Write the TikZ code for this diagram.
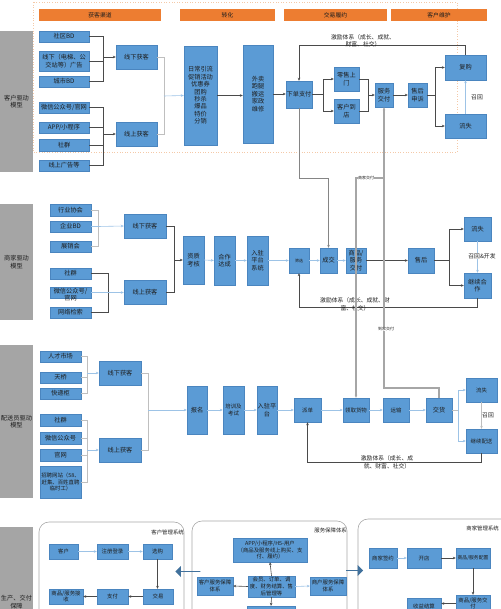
\documentclass[tikz,border=0pt]{standalone}
\usepackage{fontspec}
\setmainfont{Noto Sans CJK SC}
\usetikzlibrary{arrows.meta,shapes.arrows}
\definecolor{bfill}{HTML}{5B9BD5}
\definecolor{bline}{HTML}{4A85BF}
\definecolor{org}{HTML}{ED7D31}
\definecolor{gry}{HTML}{A5A5A5}
\definecolor{dkl}{HTML}{4A4A4A}
\definecolor{ltl}{HTML}{9DC3E6}
\definecolor{ltg}{HTML}{BFBFBF}
\definecolor{thkc}{HTML}{A6A6A6}
\definecolor{txt}{HTML}{1E1E1E}
\definecolor{barrow}{HTML}{41719C}
\definecolor{frm}{HTML}{F4C9A8}
\newcommand\rbox[7][bx]{\node[#1,minimum width={(#5)-(#3)},minimum height={(#6)-(#4)}] (#2) at ({((#3)+(#5))/2},{((#4)+(#6))/2}) {#7};}
\tikzset{
 bx/.style={draw=bline,line width=0.4pt,fill=bfill,text=txt,inner sep=0.3pt,align=center,font=\fontsize{6.2}{7.4}\selectfont},
 hdr/.style={fill=org,draw=none,text=txt,inner sep=0pt,align=center,font=\fontsize{5.8}{7}\selectfont},
 sidebar/.style={fill=gry,draw=none,text=txt,inner sep=0pt,align=center,font=\fontsize{6.2}{7.6}\selectfont},
 sys/.style={draw=thkc,line width=0.6pt,fill=none,rounded corners=10pt,inner sep=0pt},
 dk/.style={draw=dkl,line width=0.6pt},
 lt/.style={draw=ltl,line width=0.6pt},
 lg/.style={draw=ltg,line width=0.6pt},
 midl/.style={draw=thkc!80!black,line width=0.9pt},
 thk/.style={draw=thkc,line width=1.6pt},
 arr/.style={-{Stealth[length=3pt,width=2.6pt]}},
 lbl/.style={text=txt,align=center,inner sep=0.5pt,font=\fontsize{5.8}{7.6}\selectfont},
 tiny/.style={text=txt,inner sep=0.3pt,font=\fontsize{4}{5}\selectfont},
 ttl/.style={text=txt,inner sep=0pt,font=\fontsize{5.4}{6}\selectfont},
 sm/.style={font=\fontsize{5.4}{6.6}\selectfont},
 barw/.style={single arrow,fill=barrow,draw=none,minimum width=11pt,single arrow head extend=3pt,inner sep=0pt}
}
\begin{document}
\begin{tikzpicture}[x=1pt,y=-1pt]
\useasboundingbox (0,0) rectangle (500,609);
\draw[draw=frm,dotted,line width=0.6pt] (33,2) rectangle (457,152);
% headers
\rbox[hdr]{h1}{39}{9}{161}{21}{获客渠道}
\rbox[hdr]{h2}{180}{9}{275}{21}{转化}
\rbox[hdr]{h3}{284}{9}{387}{21}{交易履约}
\rbox[hdr]{h4}{391}{9}{487}{21}{客户维护}
% side bars
\rbox[sidebar]{g1}{0}{31}{33}{172}{客户驱动\\模型}
\rbox[sidebar]{g2}{0}{204}{33}{320}{商家驱动\\模型}
\rbox[sidebar]{g3}{0}{345}{33}{498}{配送员驱动\\模型}
\rbox[sidebar]{g4}{0}{527}{33}{640}{}
\node[sidebar,fill=none] (g4t) at (16.5,602) {生产、交付\\保障};
% ---------- section 1 ----------
\rbox{c1a}{39}{31}{89}{42}{社区BD}
\rbox{c1b}{39}{51}{89}{71}{线下（电梯、公\\交站等）广告}
\rbox{c1c}{39}{76}{89}{87}{城市BD}
\rbox{c1d}{39}{102}{89}{113}{微信公众号/官网}
\rbox{c1e}{39}{122}{89}{133}{APP/小程序}
\rbox{c1f}{39}{139}{89}{151}{社群}
\rbox{c1g}{39}{160}{89}{171}{线上广告等}
\rbox{c1off}{116}{45}{157}{69}{线下获客}
\rbox{c1on}{116}{122}{157}{146}{线上获客}
\rbox{c1conv}{184}{46}{217}{145}{日常引流\\促销活动\\优惠券\\团购\\秒杀\\爆品\\特价\\分销}
\rbox{c1svc}{243}{45}{273}{143}{外卖\\跑腿\\搬运\\家政\\维修}
\rbox{c1ord}{286}{81}{312}{108}{下单支付}
\rbox{c1door}{334}{67}{359}{91}{零售上\\门}
\rbox{c1shop}{334}{99}{359}{123}{客户到\\店}
\rbox{c1del}{375}{83}{393}{107}{服务\\交付}
\rbox{c1as}{408}{83}{427}{107}{售后\\申诉}
\rbox{c1rep}{445}{55}{486}{80}{复购}
\rbox{c1lost}{445}{114}{486}{138}{流失}
\coordinate (j1a) at (103,57);
\coordinate (j1b) at (103,134);
\coordinate (j1c) at (164,96);
\coordinate (j1d) at (323,94.5);
\coordinate (j1e) at (368,95);
\coordinate (j1f) at (435,95);
\draw[dk] (c1a.east) -| (j1a);
\draw[dk] (c1c.east) -| (j1a);
\draw[dk] (c1b.east) -- (c1b.east -| j1a);
\draw[dk,arr] (j1a) -- (c1off.west);
\draw[dk] (c1d.east) -| (j1b);
\draw[dk] (c1g.east) -| (j1b);
\draw[dk] (c1e.east) -- (c1e.east -| j1b);
\draw[dk] (c1f.east) -- (c1f.east -| j1b);
\draw[dk,arr] (j1b) -- (c1on.west);
\draw[lg] (c1off.east) -| (j1c);
\draw[lg] (c1on.east) -| (j1c);
\draw[lt,arr] (j1c) -- (c1conv.west);
\draw[dk,arr] (c1conv.east) -- (c1conv.east -| c1svc.west);
\draw[dk,arr] (c1svc.east) -- (c1svc.east -| c1ord.west);
\draw[dk] (c1ord.east) -- (j1d);
\draw[dk,arr] (j1d) |- (c1door.west);
\draw[dk,arr] (j1d) |- (c1shop.west);
\draw[dk] (c1door.east) -| (j1e);
\draw[dk] (c1shop.east) -| (j1e);
\draw[dk,arr] (j1e) -- (c1del.west);
\draw[dk,arr] (c1del.east) -- (c1as.west);
\draw[dk] (c1as.east) -- (j1f);
\draw[dk,arr] (j1f) |- (c1rep.west);
\draw[dk,arr] (j1f) |- (c1lost.west);
\draw[lt,arr] (c1lost.north) -- (c1rep.south);
\node[lbl,fill=white] (r1) at (477,97) {召回};
\draw[dk,arr] (c1rep.north) -- ++(0,-9) -| (c1ord.north);
\node[lbl] (k1) at (363,41) {激励体系（成长、成就、\\财富、社交）};
% ---------- section 2 ----------
\rbox{m1a}{50}{204}{91}{216}{行业协会}
\rbox{m1b}{50}{221}{91}{232}{企业BD}
\rbox{m1c}{50}{241}{91}{252}{展销会}
\rbox{m1d}{50}{268}{91}{279}{社群}
\rbox{m1e}{50}{287}{91}{298}{}
\node[lbl,font=\fontsize{6.2}{7}\selectfont] (m1et) at (70.5,295) {微信公众号/\\官网};
\rbox{m1f}{50}{307}{91}{318}{网络检索}
\rbox{m1off}{124}{214}{166}{238}{线下获客}
\rbox{m1on}{124}{280}{166}{304}{线上获客}
\rbox{m1qual}{183}{236}{204}{284}{资质\\考核}
\rbox{m1coop}{214}{236}{235}{285}{合作\\达成}
\rbox{m1join}{247}{236}{268}{285}{入驻\\平台\\系统}
\rbox[bx,tiny]{m1sel}{289}{248}{309}{273}{筛选}
\rbox{m1deal}{320}{248}{337}{273}{成交}
\rbox{m1deliv}{346}{248}{366}{273}{商品/\\服务\\交付}
\rbox{m1as}{408}{248}{434}{273}{售后}
\rbox{m1lost}{464}{217}{491}{241}{流失}
\rbox{m1cont}{464}{273}{491}{298}{继续合\\作}
\coordinate (j2a) at (98,226.5);
\coordinate (j2b) at (108,292.5);
\coordinate (j2c) at (174,260);
\coordinate (j2d) at (449,260.5);
\draw[lg] (m1a.east) -| (j2a);
\draw[lg] (m1c.east) -| (j2a);
\draw[lt] (m1b.east) -- (j2a);
\draw[lt,arr] (j2a) -- (m1off.west);
\draw[dk] (m1d.east) -| (j2b);
\draw[dk] (m1f.east) -| (j2b);
\draw[lt,arr] (m1e.east) -- (m1e.east -| m1on.west);
\draw[dk] (m1off.east) -| (j2c);
\draw[dk] (m1on.east) -| (j2c);
\draw[dk,arr] (j2c) -- (m1qual.west);
\draw[lt,arr] (m1qual.east) -- (m1coop.west);
\draw[lt,arr] (m1coop.east) -- (m1join.west);
\draw[lt,arr] (m1join.east) -- (m1sel.west);
\draw[lt,arr] (m1sel.east) -- (m1deal.west);
\draw[lt,arr] (m1deal.east) -- (m1deliv.west);
\draw[dk,arr] (m1deliv.east) -- (m1as.west);
\draw[dk] (m1as.east) -- (j2d);
\draw[dk,arr] (j2d) |- (m1lost.west);
\draw[dk,arr] (j2d) |- (m1cont.west);
\draw[lt,arr] (m1lost.south) -- (m1cont.north);
\node[lbl,fill=white] (r2) at (482,256) {召回\&开发};
\draw[dk,arr] (m1cont.south) -- ++(0,9) -| (m1sel.south);
\node[lbl] (k2) at (355,304) {激励体系（成长、成就、财\\富、社交）};
% ---------- section 3 ----------
\rbox{d1a}{40}{351}{81}{362}{人才市场}
\rbox{d1b}{40}{372}{81}{383}{天桥}
\rbox{d1c}{40}{388}{81}{399}{快递柜}
\rbox{d1d}{40}{414}{81}{426}{社群}
\rbox{d1e}{40}{432}{81}{444}{微信公众号}
\rbox{d1f}{40}{449}{81}{461}{官网}
\rbox[bx,sm]{d1g}{40}{466}{81}{498}{招聘网站（58、\\赶集、百姓直聘\\临时工）}
\rbox{d1off}{99}{361}{141}{385}{线下获客}
\rbox{d1on}{99}{438}{141}{462}{线上获客}
\rbox{d1reg}{187}{386}{207}{434}{报名}
\rbox[bx,sm]{d1train}{223}{386}{244}{434}{培训及\\考试}
\rbox{d1join}{257}{386}{277}{434}{入驻平\\台}
\rbox[bx,sm]{d1disp}{294}{398}{321}{422}{派单}
\rbox[bx,sm]{d1pick}{343}{398}{369}{422}{领取货物}
\rbox[bx,sm]{d1trans}{383}{398}{409}{422}{运输}
\rbox{d1hand}{426}{398}{452}{422}{交货}
\rbox[bx,sm]{d1lost}{466}{378}{497}{402}{流失}
\rbox[bx,sm]{d1cont}{466}{429}{497}{453}{继续配送}
\coordinate (j3a) at (87,373);
\coordinate (j3b) at (87,450);
\coordinate (j3c) at (148,410);
\coordinate (j3d) at (458,410);
\draw[lg] (d1a.east) -| (j3a);
\draw[lg] (d1c.east) -| (j3a);
\draw[lg] (d1b.east) -- (d1b.east -| j3a);
\draw[lt,arr] (j3a) -- (d1off.west);
\draw[lg] (d1d.east) -| (j3b);
\draw[lg] (d1g.east) -| (j3b);
\draw[lg] (d1e.east) -- (d1e.east -| j3b);
\draw[lg] (d1f.east) -- (d1f.east -| j3b);
\draw[lt,arr] (j3b) -- (d1on.west);
\draw[lg] (d1off.east) -| (j3c);
\draw[lg] (d1on.east) -| (j3c);
\draw[lt,arr] (j3c) -- (d1reg.west);
\draw[lt,arr] (d1reg.east) -- (d1train.west);
\draw[lt,arr] (d1train.east) -- (d1join.west);
\draw[lt,arr] (d1join.east) -- (d1disp.west);
\draw[lt,arr] (d1disp.east) -- (d1pick.west);
\draw[lt,arr] (d1pick.east) -- (d1trans.west);
\draw[lt,arr] (d1trans.east) -- (d1hand.west);
\draw[lg] (d1hand.east) -- (j3d);
\draw[lt,arr] (j3d) |- (d1lost.west);
\draw[lt,arr] (j3d) |- (d1cont.west);
\draw[lg,arr] (d1lost.south) -- (d1cont.north);
\node[lbl,fill=white] (r3) at (488,415) {召回};
\draw[dk,arr] (d1cont.south) -- ++(0,9) -| (d1disp.south);
\node[lbl] (k3) at (387,462) {激励体系（成长、成\\就、财富、社交）};
% ---------- cross connectors ----------
\draw[midl,arr] (c1ord.south) -- ++(0,70) -| (m1deal.north);
\draw[thk,arr] (d1hand.north) -- ++(0,-10) -| (c1del.south);
\coordinate (sj) at (384,178);
\draw[thk,arr] (sj) -| (d1pick.north);
\node[tiny,fill=white] (lb1) at (366,177.5) {商家交付};
\node[tiny,fill=white] (lb2) at (386,329) {到家交付};
% ---------- bottom ----------
\rbox[sys]{s1}{39}{522}{184}{640}{}
\rbox[sys]{s2}{192}{521}{347}{640}{}
\rbox[sys]{s3}{358}{519}{515}{640}{}
\node[ttl,anchor=east] (t1) at (184,532) {客户管理系统};
\node[ttl,anchor=east] (t2) at (347,530) {服务保障体系};
\node[ttl,anchor=east] (t3) at (499,528) {商家管理系统};
\rbox[bx,sm]{b1a}{49}{544}{78}{559}{客户}
\rbox[bx,sm]{b1b}{97}{544}{128}{559}{注册登录}
\rbox[bx,sm]{b1c}{143}{544}{172}{559}{选购}
\rbox[bx,sm]{b1d}{143}{589}{173}{604}{交易}
\rbox[bx,sm]{b1e}{97}{589}{128}{604}{支付}
\rbox[bx,sm]{b1f}{49}{589}{83}{604}{商品/服务接\\收}
\draw[lt,arr] (b1a.east) -- (b1b.west);
\draw[lt,arr] (b1b.east) -- (b1c.west);
\draw[dk,arr] (b1c.south) -- (b1c.south |- b1d.north);
\draw[dk,arr] (b1d.west) -- (b1e.east);
\draw[dk,arr] (b1e.west) -- (b1f.east);
\node[barw,shape border rotate=180,minimum height=25pt] (ba1) at (188,571.5) {};
\rbox[bx,sm]{b2app}{233}{538}{307}{562}{APP/小程序/H5-用户\\（商品及服务线上购买、支\\付、履约）}
\rbox[bx,sm]{b2mid}{248}{576}{295}{597}{会员、订单、调\\度、财务结算、售\\后管理等}
\rbox[bx,sm]{b2cust}{197}{577}{233}{595}{客户服务保障\\体系}
\rbox[bx,sm]{b2merch}{310}{577}{346}{595}{商户服务保障\\体系}
\rbox{b2low}{247}{606}{295}{625}{}
\draw[dk,arr] (b2mid.north) -- (b2app.south);
\draw[dk,arr] (b2mid.west) -- (b2cust.east);
\draw[lt,arr] (b2mid.east) -- (b2merch.west);
\draw[dk,arr] (b2mid.south) -- (b2low.north);
\node[barw,minimum height=17pt] (ba2) at (354.5,570.5) {};
\rbox[bx,sm]{b3a}{369}{548}{397}{568}{商家签约}
\rbox[bx,sm]{b3b}{407}{548}{441}{568}{开店}
\rbox[bx,font=\fontsize{4.8}{6}\selectfont]{b3c}{456}{548}{490}{568}{商品/服务配置}
\rbox[bx,sm]{b3d}{456}{595}{490}{612}{商品/服务交\\付}
\rbox[bx,sm]{b3e}{407}{598}{441}{615}{收益结算}
\draw[lt,arr] (b3a.east) -- (b3b.west);
\draw[dk,arr] (b3b.east) -- (b3c.west);
\draw[dk,arr] (b3c.south) -- (b3d.north);
\draw[dk,arr] (b3d.west) -- (b3d.west -| b3e.east);
\end{tikzpicture}
\end{document}
